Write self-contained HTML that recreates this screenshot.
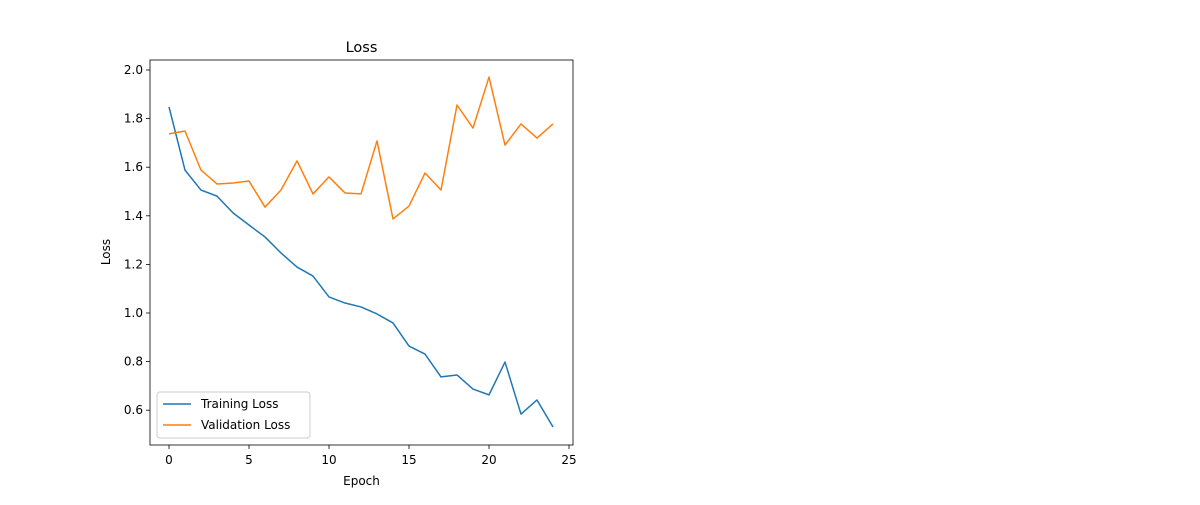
<!DOCTYPE html>
<html><head><meta charset="utf-8"><style>
body{margin:0;background:#fff;}
svg text{font-family:"DejaVu Sans","Liberation Sans",sans-serif;fill:#000;}
</style></head><body>
<svg id="chart" width="1200" height="500" xmlns="http://www.w3.org/2000/svg"></svg>
<script>
const epochs=[0,1,2,3,4,5,6,7,8,9,10,11,12,13,14,15,16,17,18,19,20,21,22,23,24];
const trainLoss=[1.848,1.588,1.506,1.481,1.412,1.362,1.313,1.247,1.189,1.152,1.066,1.041,1.025,0.996,0.959,0.864,0.831,0.737,0.745,0.687,0.663,0.798,0.584,0.642,0.531];
const valLoss=[1.737,1.749,1.588,1.531,1.535,1.543,1.436,1.506,1.626,1.490,1.560,1.494,1.490,1.708,1.387,1.440,1.576,1.506,1.856,1.761,1.971,1.691,1.778,1.720,1.778];
const xTicks=[0,5,10,15,20,25];
const yTicks=[0.6,0.8,1.0,1.2,1.4,1.6,1.8,2.0];
const NS="http://www.w3.org/2000/svg";
const svg=document.getElementById('chart');
const L=150,R=573,T=60,B=445;
const xs=v=>169+v*16;
const ys=v=>70+(2.0-v)*243;
function mk(tag,attrs,parent){const e=document.createElementNS(NS,tag);for(const k in attrs)e.setAttribute(k,attrs[k]);(parent||svg).appendChild(e);return e;}
const frame=mk('rect',{x:L,y:T,width:R-L,height:B-T,fill:'none',stroke:'#000','stroke-width':0.8});


xTicks.forEach(t=>{
  const l=mk('line',{x1:xs(t),x2:xs(t),y1:B,y2:B+4,stroke:'#000','stroke-width':0.8});
  
  
  const tx=mk('text',{x:xs(t),y:B+19,'text-anchor':'middle','font-size':12});
  tx.textContent=t;
  
  
});
yTicks.forEach(t=>{
  const l=mk('line',{x1:L-4,x2:L,y1:ys(t),y2:ys(t),stroke:'#000','stroke-width':0.8});
  
  
  const tx=mk('text',{x:L-7,y:ys(t)+4,'text-anchor':'end','font-size':12});
  tx.textContent=t.toFixed(1);
  
  
});
function line(data,color,name){
  const p=mk('polyline',{points:data.map((v,i)=>xs(epochs[i])+','+ys(v)).join(' '),fill:'none',stroke:color,'stroke-width':1.5,'stroke-linejoin':'round'});
  
  
}
line(trainLoss,'#1f77b4','training-loss-line');
line(valLoss,'#ff7f0e','validation-loss-line');
const title=mk('text',{x:361.5,y:52,'text-anchor':'middle','font-size':14.5});
title.textContent='Loss';


const xl=mk('text',{x:361.5,y:485,'text-anchor':'middle','font-size':12});
xl.textContent='Epoch';


const yl=mk('text',{x:110,y:252,'text-anchor':'middle','font-size':12,transform:'rotate(-90 110 252)'});
yl.textContent='Loss';


const lg=mk('g',{});


mk('rect',{x:157,y:392,width:153,height:46,rx:3,fill:'#fff',stroke:'#ccc','stroke-width':1},lg);
[['Training Loss','#1f77b4',404],['Validation Loss','#ff7f0e',425]].forEach(([n,c,y])=>{
  const g=mk('g',{},lg);
  
  
  mk('line',{x1:163,x2:191,y1:y,y2:y,stroke:c,'stroke-width':1.5},g);
  const t=mk('text',{x:201,y:y+4,'font-size':12},g);
  t.textContent=n;
});
</script>
</body></html>
